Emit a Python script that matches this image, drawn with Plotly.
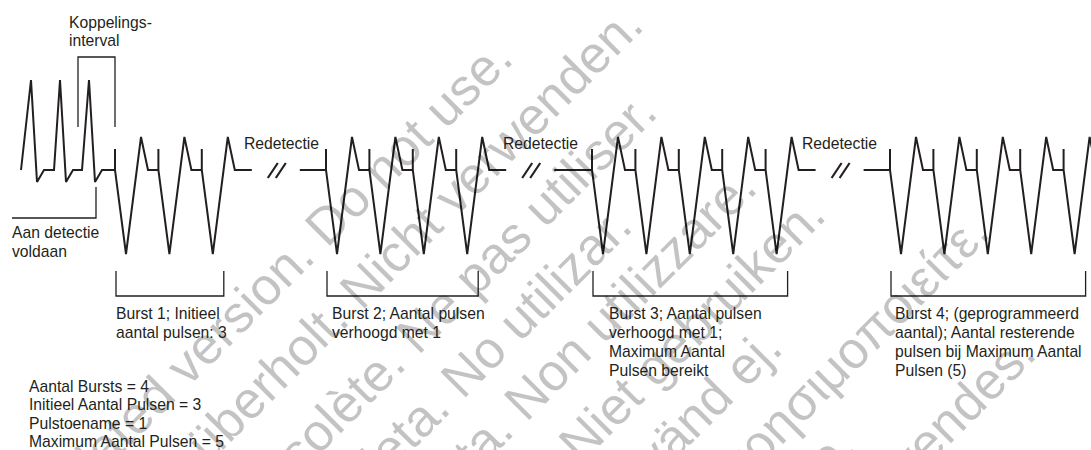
import math
import plotly.graph_objects as go

# ---------------- data ----------------
# intrinsic (sensed) beats before detection: onset and peak times
intrinsic_onsets = [21, 54, 82]
intrinsic_peaks = [31, 60, 89]

# ATP bursts: start time of first pulse and number of pulses per burst
burst_starts = [115, 326, 592, 890]
burst_pulses = [3, 4, 5, 5]
pulse_interval = 43.4

# waveform amplitude levels (arbitrary units, baseline = 0)
amp_intr_peak = 9.0
amp_intr_dip = -1.2
amp_spike = 2.1
amp_trough = -8.4
amp_t_peak = 3.3

burst_labels = [
    ["Burst 1; Initieel", "aantal pulsen: 3"],
    ["Burst 2; Aantal pulsen", "verhoogd met 1"],
    ["Burst 3; Aantal pulsen", "verhoogd met 1;", "Maximum Aantal", "Pulsen bereikt"],
    ["Burst 4; (geprogrammeerd", "aantal); Aantal resterende",
     "pulsen bij Maximum Aantal", "Pulsen (5)"],
]
param_lines = [
    "Aantal Bursts = 4",
    "Initieel Aantal Pulsen = 3",
    "Pulstoename = 1",
    "Maximum Aantal Pulsen = 5",
]
redetect_label = "Redetectie"
coupling_label = ["Koppelings-", "interval"]
detect_label = ["Aan detectie", "voldaan"]
watermark_lines = [
    "Outdated version. Do not use.",
    "Version überholt. Nicht verwenden.",
    "Version obsolète. Ne pas utiliser.",
    "Versión obsoleta. No utilizar.",
    "Versione obsoleta. Non utilizzare.",
    "Verouderde versie. Niet gebruiken.",
    "Föråldrad version. Använd ej.",
    "Παλιά έκδοση. Μην την χρησιμοποιείτε.",
    "Versão obsoleta. Não utilize.",
    "Forældet version. Må ikke anvendes.",
]

# ---------------- layout helpers ----------------
W, H = 1091, 450
INK = "#231f20"
FONT = "Liberation Sans, Arial, sans-serif"
FS = 15.7


def vy(py):
    """pixel row -> y data value"""
    return (170 - py) / 10.0


# ---------------- build waveform ----------------
wx, wy = [], []
for on, pk in zip(intrinsic_onsets, intrinsic_peaks):
    wx += [on, pk, pk + 6, pk + 13]
    wy += [0, amp_intr_peak, amp_intr_dip, 0]

brk_x, brk_y = [], []
for b, (st, n) in enumerate(zip(burst_starts, burst_pulses)):
    for i in range(n):
        t = st + i * pulse_interval
        wx += [t, t, t, t + 11, t + 26, t + 33]
        wy += [0, amp_spike, 0, amp_trough, amp_t_peak, 0]
    last = st + (n - 1) * pulse_interval
    end = last + 33 + 17
    wx += [end]
    wy += [0]
    if b < len(burst_starts) - 1:
        wx += [None, end + 48]
        wy += [None, 0]
        for off in (16, 24):
            brk_x += [end + off, end + off + 10, None]
            brk_y += [vy(178), vy(163), None]

fig = go.Figure()
fig.add_trace(go.Scatter(x=wx, y=wy, mode="lines",
                         line=dict(color=INK, width=2), hoverinfo="skip"))
fig.add_trace(go.Scatter(x=brk_x, y=brk_y, mode="lines",
                         line=dict(color=INK, width=2.2), hoverinfo="skip"))

shapes = []
BR = dict(color=INK, width=1.3)
# burst brackets
for st, n in zip(burst_starts, burst_pulses):
    x1 = st + 1
    x2 = st + (n - 1) * pulse_interval + 22
    shapes.append(dict(type="path", xref="x", yref="y", line=BR,
                       path=f"M {x1},{vy(271)} L {x1},{vy(296)} L {x2},{vy(296)} L {x2},{vy(271)}"))
# coupling interval bracket
shapes.append(dict(type="path", xref="x", yref="y", line=BR,
                   path=f"M 78,{vy(127)} L 78,{vy(57)} L {burst_starts[0]},{vy(57)} L {burst_starts[0]},{vy(127)}"))
# detection met bracket
shapes.append(dict(type="path", xref="x", yref="y", line=BR,
                   path=f"M {intrinsic_peaks[-1] + 7},{vy(187)} L {intrinsic_peaks[-1] + 7},{vy(218)} L 12,{vy(218)}"))

ann = []
# watermark (translucent black so black strokes under it stay black)
WF = 52
A = -524.0                      # common start of all watermark lines (x - y)
wm_offsets = [578, 675, 776, 865, 951, 1047, 1137, 1228, 1310, 1396]  # x + y of each baseline
hbox = 1.15 * WF + 4
dpad = 0.21 * WF + 2
for txt, c in zip(watermark_lines, wm_offsets):
    sx, sy = (c + A) / 2, (c - A) / 2
    bx, by = sx + 0.707 * dpad, sy + 0.707 * dpad
    ann.append(dict(xref="paper", yref="paper", x=(bx - 0.707 * hbox) / W, y=1 - by / H,
                    xanchor="left", yanchor="bottom", text=txt, textangle=-45,
                    showarrow=False, font=dict(family=FONT, size=WF, color="rgba(0,0,0,0.235)")))


def label(x, y, s):
    ann.append(dict(x=x - 2, y=vy(y), xref="x", yref="y", text=s, showarrow=False,
                    xanchor="left", yanchor="middle",
                    font=dict(family=FONT, size=FS, color=INK)))


for i, s in enumerate(coupling_label):
    label(69, 22 + 18 * i, s)
for i, s in enumerate(detect_label):
    label(12, 232 + 19 * i, s)
for x in (244, 503, 802):
    label(x, 143, redetect_label)
for bx, lines in zip((116, 332, 609, 895), burst_labels):
    for i, s in enumerate(lines):
        label(bx, 313 + 19 * i, s)
for i, s in enumerate(param_lines):
    label(29, 386 + 18.5 * i, s)

fig.update_layout(
    width=W, height=H, margin=dict(l=0, r=0, t=0, b=0),
    paper_bgcolor="white", plot_bgcolor="white", showlegend=False,
    xaxis=dict(range=[0, W], visible=False, fixedrange=True),
    yaxis=dict(range=[vy(H), vy(0)], visible=False, fixedrange=True),
    shapes=shapes, annotations=ann,
)
fig.write_html(
    "out.html",
    config={"displayModeBar": False},
    post_script="document.body.style.margin='0';document.body.style.overflow='hidden';",
)
